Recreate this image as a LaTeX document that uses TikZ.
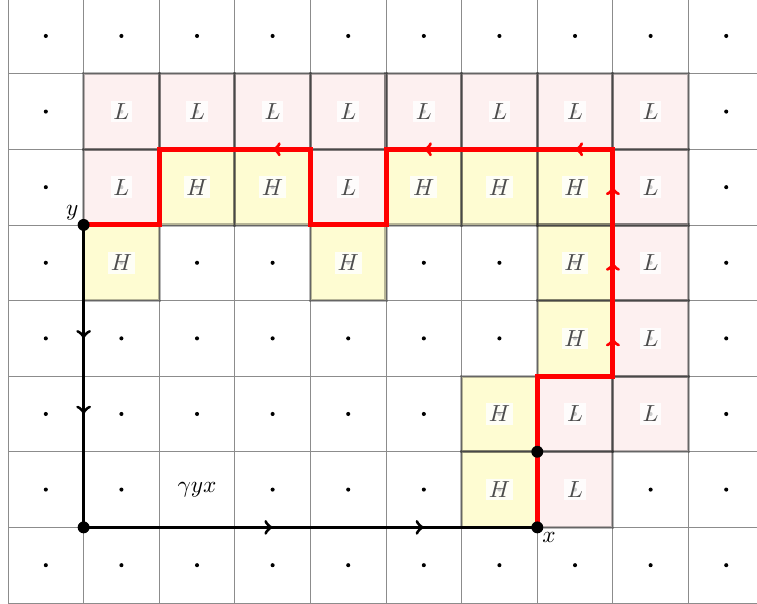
\documentclass[tikz,border=0pt]{standalone}
\usepackage{xcolor}
\usepackage{amsmath}
\usetikzlibrary{decorations.markings}

\definecolor{lowpink}{RGB}{253,240,240}
\definecolor{highyellow}{RGB}{254,252,210}

\begin{document}
\begin{tikzpicture}
        [
        scale=1.14,
        gridline/.style={draw=black!45, line width=0.4pt},
        lowcell/.style={fill=lowpink},
        highcell/.style={fill=highyellow},
        cellrim/.style={draw=black, draw opacity=0.28, line width=1.4pt},
        tag/.style={fill=white, fill opacity=0.8, text opacity=1, text=black!70, inner sep=1.2pt},
        vertex/.style={circle, fill=black, inner sep=0pt, minimum size=0.18cm},
        redpath/.style={red, line width=2.2pt, postaction={decorate}},
        blackpath/.style={black, line width=1.5pt, postaction={decorate}}
        ]

        \useasboundingbox (-0.106,-0.013) rectangle (9.907,7.976);
        \clip (-0.106,-0.013) rectangle (9.907,7.976);

        % shaded cells
        \foreach \i/\j in {1/6,2/6,3/6,4/6,5/6,6/6,7/6,8/6,1/5,4/5,8/5,8/4,8/3,7/2,8/2,7/1}
            \fill[lowcell] (\i,\j) rectangle ++(1,1);
        \foreach \i/\j in {2/5,3/5,5/5,6/5,7/5,1/4,4/4,7/4,7/3,6/2,6/1}
            \fill[highcell] (\i,\j) rectangle ++(1,1);

        \draw[gridline] (0,0) grid (10,8);

        \foreach \i in {0,...,9}
            \foreach \j in {0,...,7}
            {
                \ifnum\i\j=21 \else \fill (\i+0.5,\j+0.5) circle (0.027); \fi
            }

        \foreach \i/\j in {1/6,2/6,3/6,4/6,5/6,6/6,7/6,8/6,1/5,4/5,8/5,8/4,8/3,7/2,8/2,7/1}
            \draw[cellrim] (\i,\j) rectangle ++(1,1);
        \foreach \i/\j in {2/5,3/5,5/5,6/5,7/5,1/4,4/4,7/4,7/3,6/2,6/1}
            \draw[cellrim] (\i,\j) rectangle ++(1,1);

        \foreach \i/\j in {1/6,2/6,3/6,4/6,5/6,6/6,7/6,8/6,1/5,4/5,8/5,8/4,8/3,7/2,8/2,7/1}
            \node[tag] (L-\i-\j) at (\i+0.5,\j+0.5) {$L$};
        \foreach \i/\j in {2/5,3/5,5/5,6/5,7/5,1/4,4/4,7/4,7/3,6/2,6/1}
            \node[tag] (H-\i-\j) at (\i+0.5,\j+0.5) {$H$};

        % path corners
        \coordinate (x) at (7,1);
        \coordinate (y) at (1,5);
        \coordinate (corner) at (1,1);
        \coordinate (mid) at (7,2);
        \coordinate (r1) at (7,3);
        \coordinate (r2) at (8,3);
        \coordinate (r3) at (8,6);
        \coordinate (r4) at (5,6);
        \coordinate (r5) at (5,5);
        \coordinate (r6) at (4,5);
        \coordinate (r7) at (4,6);
        \coordinate (r8) at (2,6);
        \coordinate (r9) at (2,5);

        \draw[blackpath, decoration={markings,
                mark=at position 0.15 with {\arrow[scale=0.9]{>}},
                mark=at position 0.25 with {\arrow[scale=0.9]{>}},
                mark=at position 0.65 with {\arrow[scale=0.9]{>}},
                mark=at position 0.85 with {\arrow[scale=0.9]{>}}}]
            (y) -- (corner) -- (x);

        \draw[redpath, decoration={markings,
                mark=at position 0.21875 with {\arrow[scale=0.65]{>}},
                mark=at position 0.28125 with {\arrow[scale=0.65]{>}},
                mark=at position 0.34375 with {\arrow[scale=0.65]{>}},
                mark=at position 0.40625 with {\arrow[scale=0.65]{>}},
                mark=at position 0.53125 with {\arrow[scale=0.65]{>}},
                mark=at position 0.78125 with {\arrow[scale=0.65]{>}}}]
            (x) -- (mid) -- (r1) -- (r2) -- (r3) -- (r4) -- (r5) -- (r6) -- (r7) -- (r8) -- (r9) -- (y);

        \node[vertex] (dot-x) at (x) {};
        \node[vertex] (dot-y) at (y) {};
        \node[vertex] (dot-corner) at (corner) {};
        \node[vertex] (dot-mid) at (mid) {};

        \node[below right, inner sep=2pt] (x-label) at (x) {$x$};
        \node[above left, inner sep=2pt] (y-label) at (y) {$y$};
        \node (gamma) at (2.5,1.5) {$\gamma yx$};

    \end{tikzpicture}
\end{document}
